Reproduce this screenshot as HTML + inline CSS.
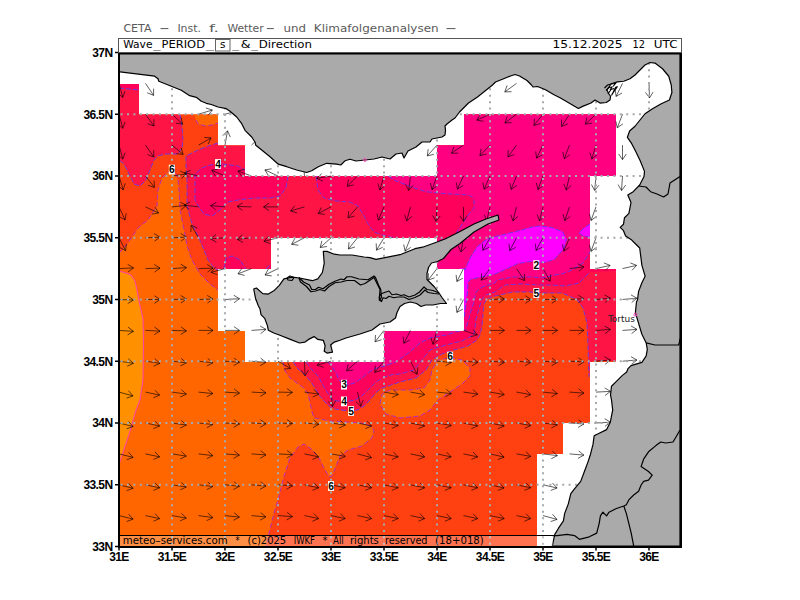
<!DOCTYPE html><html><head><meta charset="utf-8"><style>html,body{margin:0;padding:0;background:#fff;width:800px;height:600px;overflow:hidden}svg{display:block}</style></head><body>
<svg width="800" height="600" viewBox="0 0 800 600">
<defs>
<clipPath id="mask"><rect x="119" y="84" width="20" height="30.5"/><rect x="119" y="114.5" width="99" height="31.0"/><rect x="464" y="114.5" width="152" height="31.0"/><rect x="119" y="145.5" width="126" height="30.5"/><rect x="437" y="145.5" width="179" height="30.5"/><rect x="119" y="176" width="471" height="62"/><rect x="119" y="238" width="152" height="31"/><rect x="437" y="238" width="153" height="31"/><rect x="119" y="269" width="99" height="62"/><rect x="464" y="269" width="152" height="62"/><rect x="119" y="331" width="126" height="31"/><rect x="384" y="331" width="232" height="31"/><rect x="119" y="362" width="471" height="61"/><rect x="119" y="423" width="444" height="31"/><rect x="119" y="454" width="418" height="93"/></clipPath>
<clipPath id="map"><rect x="120" y="54" width="560" height="492"/></clipPath>
</defs>
<rect width="800" height="600" fill="#fff"/>
<g clip-path="url(#map)"><g clip-path="url(#mask)">
<rect x="119" y="52" width="562" height="495" fill="#FF6600"/>
<polygon points="100,271 119,271 126,273 131,275 135,281 137,290 139,301 141,310 143,319 143.5,340 143,380 140,400 136,410 129.5,433 122.6,453.7 119,464 100,464" fill="#FF9000"/>
<polygon points="119,52 681,52 681,547 266,547 270,529 274,513 278,500 284,476 290,458 298,447 304,444 310,448 318,456 324,468 329,477 332,476 336,466 340,456 348,450 362,446 372,438 374,430 370,426 362,423 346,422 330,421 320,419 314,418 312,412 310,402 308,394 304,388 297,383 290,378 285,371 283,362 248,355 248,330 220,328 220,295 218,290 210,284 200,274 192,260 187,246 184,230 180,210 179,190 178,180 176,174 168,172 162,178 158,190 157,206 148,220 138,228 130,240 124,248 119,253 119,52" fill="#FF4010"/>
<polygon points="194,114.5 196,120 198,124 206,126 212,125 218,123 218,114.5" fill="#FF6600"/>
<polygon points="380,404 382,394 390,390 410,390 424,388 430,380 432,370 438,360 450,358 462,360 470,368 470,376 462,384 450,392 438,400 430,410 420,416 400,418 386,414" fill="#FF6600"/>
<polygon points="119,52 181,52 180,114.5 182,126 183,140 182,148 178,154 166,154 158,156 154,160 150,170 146,180 140,186 134,184 128,172 124,164 119,160" fill="#FF1446"/>
<polygon points="218,143 225,140 225,52 681,52 681,361 592,361 589,377 588,345 587,323 583,308 577,299.5 562,293 555,293 543,293 530,292 513,292 495,296 487,299 484,304 483,315 482,326 480,335 477,340 468,346 454,350 442,354 432,360 426,370 416,378 400,382 391,385 382,388 376,392.5 370,400 364,406 358,409.75 351,411 341,410 335,409 329,406 324,401 319,395 315,388 311,382 305,375 298,369 293,362 292,340 225,300 222,272 218,270 214,268 208,260 204,250 198,236 192,224 187,206 187,180 186,166 186,156 198,150 208,146 218,143" fill="#FF1446"/>
<polygon points="119,52 140,52 139,90 119,88" fill="#FF005A"/>
<polygon points="195,200 195,174 202,168 210,165 222,164 238,166 245,170 260,172 290,172 288,176 286,188 280,196 270,198 254,198 238,200 228,202 220,210 212,216 204,214 197,204 195,200" fill="#FF005A"/>
<polygon points="316,52 681,52 681,268 590,272 579,283 566,286 551,285 538,285 522,284 505,285 495,292 486,295 482,299 479,308 476,319 475,328 473.7,335 462,341 446,345 430,350 422,360 414,370 400,374 392.5,374.5 383.5,377.5 376,382 370,388 362.5,395.5 355,400 347.5,401.5 341,401.5 332,400 329,395 324,387 318,376 312,370 306,362 306,350 394,245 394,238 382,235 374,232 368,224 364,216 358,206 350,202 336,201 324,198 318,190 316,176" fill="#FF005A"/>
<polygon points="224,269 226,258 232,256 240,260 246,269 246,275 224,275" fill="#FF005A"/>
<polygon points="266,269 271,264 275,264 275,275 266,275" fill="#FF005A"/>
<polygon points="388,52 681,52 681,250 590,250 590,252 583,263 572,270 562,274 555,275 543,278 532,277 513,277 497,280 495,283 482,287 476,292 474,302 471,311 468,322 465.7,330 456,332 446,335 430,338 420,343 410,352 396,362 385,366 377.5,367.75 370,371.5 362.5,377.5 355,382.75 347.5,385 343.5,385 339,380 336,373 332,367 328,362 327,350 420,300 437,250 437,238 455,238 457.5,230.7 460.6,226.6 466.8,216.4 474,208.2 474,200 471.5,196.5 466.8,194.9 446.3,193.8 425.7,191.7 410,186.5 395,180.5 388,176" fill="#FF0080"/>
<polygon points="464,268 465,270 470,258 477,247 483,242 489,238 502,235 518,231 534,226.6 540,226 552,227.6 562.5,231.7 566.6,239 563.6,249 554.3,259.4 544,262.5 530,261.5 518,263.5 504,270 495,274 487,276 471,279 468,282 467.7,290 466.3,302 465,311 464,319 460,319 460,268" fill="#FF00FF"/>
<polygon points="590,224 583.4,228.5 579,233 583.4,236 590,237.2 600,237 600,224" fill="#FF00FF"/>
<polyline points="180,114.5 182,126 183,140 182,148 178,154 166,154 158,156 154,160 150,170 146,180 140,186 134,184 128,172 124,164 119,160" fill="none" stroke="#5a3cf0" stroke-width="1" stroke-dasharray="5 2" opacity="0.85"/>
<polyline points="218,143 208,146 198,150 186,156 186,166 187,180 187,206 192,224 198,236 204,250 208,260 214,268 218,270" fill="none" stroke="#5a3cf0" stroke-width="1" stroke-dasharray="5 2" opacity="0.85"/>
<polyline points="293,362 298,369 305,375 311,382 315,388 319,395 324,401 329,406 335,409 341,410 351,411 358,409.75 364,406 370,400 376,392.5 382,388 391,385 400,382 416,378 426,370 432,360 442,354 454,350 468,346 477,340 480,335 482,326 483,315 484,304 487,299 495,296 513,292 530,292 543,293 555,293 562,293 577,299.5 583,308 587,323 588,345 589,377" fill="none" stroke="#5a3cf0" stroke-width="1" stroke-dasharray="5 2" opacity="0.85"/>
<polyline points="119,88 139,90" fill="none" stroke="#5a3cf0" stroke-width="1" stroke-dasharray="5 2" opacity="0.85"/>
<polyline points="195,200 195,174 202,168 210,165 222,164 238,166 245,170" fill="none" stroke="#5a3cf0" stroke-width="1" stroke-dasharray="5 2" opacity="0.85"/>
<polyline points="288,176 286,188 280,196 270,198 254,198 238,200 228,202 220,210 212,216 204,214 197,204 195,200" fill="none" stroke="#5a3cf0" stroke-width="1" stroke-dasharray="5 2" opacity="0.85"/>
<polyline points="224,269 226,258 232,256 240,260 246,269" fill="none" stroke="#5a3cf0" stroke-width="1" stroke-dasharray="5 2" opacity="0.85"/>
<polyline points="266,269 271,264" fill="none" stroke="#5a3cf0" stroke-width="1" stroke-dasharray="5 2" opacity="0.85"/>
<polyline points="316,176 318,190 324,198 336,201 350,202 358,206 364,216 368,224 374,232 382,235 394,238" fill="none" stroke="#5a3cf0" stroke-width="1" stroke-dasharray="5 2" opacity="0.85"/>
<polyline points="306,362 312,370 318,376 324,387 329,395 332,400 341,401.5 347.5,401.5 355,400 362.5,395.5 370,388 376,382 383.5,377.5 392.5,374.5 400,374 414,370 422,360 430,350 446,345 462,341 473.7,335 475,328 476,319 479,308 482,299 486,295 495,292 505,285 522,284 538,285 551,285 566,286 579,283 590,272" fill="none" stroke="#5a3cf0" stroke-width="1" stroke-dasharray="5 2" opacity="0.85"/>
<polyline points="388,176 395,180.5 410,186.5 425.7,191.7 446.3,193.8 466.8,194.9 471.5,196.5 474,200 474,208.2 466.8,216.4 460.6,226.6 457.5,230.7 455,238" fill="none" stroke="#5a3cf0" stroke-width="1" stroke-dasharray="5 2" opacity="0.85"/>
<polyline points="328,362 332,367 336,373 339,380 343.5,385 347.5,385 355,382.75 362.5,377.5 370,371.5 377.5,367.75 385,366 396,362 410,352 420,343 430,338 446,335 456,332 465.7,330 468,322 471,311 474,302 476,292 482,287 495,283 497,280 513,277 532,277 543,278 555,275 562,274 572,270 583,263 590,252" fill="none" stroke="#5a3cf0" stroke-width="1" stroke-dasharray="5 2" opacity="0.85"/>
<polyline points="464,268 465,270 470,258 477,247 483,242 489,238 502,235 518,231 534,226.6 540,226 552,227.6 562.5,231.7 566.6,239 563.6,249 554.3,259.4 544,262.5 530,261.5 518,263.5 504,270 495,274 487,276 471,279 468,282 467.7,290 466.3,302 465,311 464,319" fill="none" stroke="#5a3cf0" stroke-width="1" stroke-dasharray="5 2" opacity="0.85"/>
<polyline points="590,224 583.4,228.5 579,233 583.4,236 590,237.2" fill="none" stroke="#5a3cf0" stroke-width="1" stroke-dasharray="5 2" opacity="0.85"/>
<polyline points="119,253 124,248 130,240 138,228 148,220 157,206 158,190 162,178 168,172 176,174 178,180 179,190 180,210 184,230 187,246 192,260 200,274 210,284 218,290" fill="none" stroke="#a028e0" stroke-width="1" stroke-dasharray="5 2.5" opacity="0.8"/>
<polyline points="283,362 285,371 290,378 297,383 304,388 308,394 310,402 312,412 314,418 320,419 330,421 346,422 362,423 370,426 374,430 372,438 362,446 348,450 340,456 336,466 332,476 329,477 324,468 318,456 310,448 304,444 298,447 290,458 284,476 278,500 274,513 270,529 266,547" fill="none" stroke="#a028e0" stroke-width="1" stroke-dasharray="5 2.5" opacity="0.8"/>
<polyline points="196,120 198,124 206,126 212,125 218,123" fill="none" stroke="#a028e0" stroke-width="1" stroke-dasharray="5 2.5" opacity="0.8"/>
<polyline points="380,404 382,394 390,390 410,390 424,388 430,380 432,370 438,360 450,358 462,360 470,368 470,376 462,384 450,392 438,400 430,410 420,416 400,418 386,414 380,404" fill="none" stroke="#a028e0" stroke-width="1" stroke-dasharray="5 2.5" opacity="0.8"/>
<polyline points="119,271 126,273 131,275 135,281 137,290 139,301 141,310 143,319 143.5,340 143,380 140,400 136,410 129.5,433 122.6,453.7 119,464" fill="none" stroke="#ff3cc0" stroke-width="1" opacity="0.9"/>
</g>
<path d="M119.0 83.4L122.8 97.4M117.6 92.9L122.8 97.4L125.0 91.0M145.5 83.4L153.6 95.4M147.3 92.8L153.6 95.4L153.6 88.6M516.5 83.4L504.8 91.9M507.1 85.5L504.8 91.9L511.6 91.7M622.5 83.4L616.1 96.4M615.2 89.7L616.1 96.4L622.0 93.0M649.0 83.4L649.5 97.9M645.5 92.4L649.5 97.9L653.1 92.1M119.0 114.2L122.8 128.3M117.6 123.8L122.8 128.3L125.0 121.8M145.5 114.2L154.0 126.0M147.6 123.7L154.0 126.0L153.8 119.2M172.0 114.2L182.6 124.1M175.9 123.1L182.6 124.1L181.1 117.5M198.5 114.2L212.4 110.0M208.1 115.3L212.4 110.0L205.9 108.0M225.0 114.2L239.0 110.5M234.5 115.6L239.0 110.5L232.6 108.3M490.0 114.2L476.8 120.1M480.4 114.4L476.8 120.1L483.5 121.3M516.5 114.2L504.9 123.0M507.1 116.5L504.9 123.0L511.7 122.6M543.0 114.2L533.9 125.5M534.5 118.7L533.9 125.5L540.4 123.5M569.5 114.2L561.6 126.4M561.5 119.6L561.6 126.4L567.9 123.8M596.0 114.2L585.4 124.1M586.9 117.5L585.4 124.1L592.1 123.1M622.5 114.2L617.3 127.8M615.8 121.2L617.3 127.8L622.9 123.9M119.0 145.1L122.8 159.1M117.6 154.7L122.8 159.1L125.0 152.7M145.5 145.1L153.8 157.0M147.5 154.6L153.8 157.0L153.7 150.2M172.0 145.1L183.1 154.4M176.3 153.7L183.1 154.4L181.2 147.9M198.5 145.1L211.1 137.9M208.1 144.0L211.1 137.9L204.3 137.4M225.0 145.1L227.5 130.8M230.3 137.1L227.5 130.8L222.8 135.7M251.5 145.1L261.8 134.9M260.5 141.5L261.8 134.9L255.1 136.2M437.0 145.1L427.3 155.9M428.2 149.2L427.3 155.9L433.9 154.3M463.5 145.1L451.5 153.2M454.0 146.9L451.5 153.2L458.3 153.2M490.0 145.1L479.9 155.6M481.1 148.9L479.9 155.6L486.6 154.1M516.5 145.1L508.0 156.9M508.2 150.1L508.0 156.9L514.4 154.5M543.0 145.1L536.6 158.2M535.7 151.4L536.6 158.2L542.5 154.8M569.5 145.1L564.3 158.7M562.8 152.0L564.3 158.7L569.9 154.8M596.0 145.1L591.8 159.0M589.8 152.5L591.8 159.0L597.0 154.7M622.5 145.1L622.5 159.6M618.7 154.0L622.5 159.6L626.3 154.0M119.0 176.0L123.2 189.9M118.0 185.6L123.2 189.9L125.2 183.4M145.5 176.0L154.4 187.4M148.0 185.3L154.4 187.4L154.0 180.6M172.0 176.0L186.4 174.0M181.3 178.5L186.4 174.0L180.2 171.0M198.5 176.0L184.4 172.7M190.7 170.3L184.4 172.7L189.0 177.7M225.0 176.0L211.7 170.3M218.3 169.0L211.7 170.3L215.4 176.0M251.5 176.0L237.9 171.0M244.5 169.4L237.9 171.0L241.9 176.5M278.0 176.0L264.9 169.9M271.6 168.8L264.9 169.9L268.4 175.7M304.5 176.0L303.2 161.6M307.5 166.8L303.2 161.6L299.9 167.5M331.0 176.0L316.7 178.3M321.7 173.6L316.7 178.3L322.8 181.1M357.5 176.0L347.2 186.3M348.5 179.6L347.2 186.3L353.9 185.0M384.0 176.0L379.8 189.9M377.8 183.4L379.8 189.9L385.0 185.6M410.5 176.0L408.7 190.4M405.6 184.3L408.7 190.4L413.2 185.3M437.0 176.0L432.0 189.6M430.4 183.0L432.0 189.6L437.5 185.6M463.5 176.0L457.4 189.1M456.3 182.4L457.4 189.1L463.2 185.6M490.0 176.0L484.1 189.2M482.9 182.5L484.1 189.2L489.9 185.6M516.5 176.0L511.1 189.4M509.7 182.8L511.1 189.4L516.7 185.6M543.0 176.0L538.0 189.6M536.4 183.0L538.0 189.6L543.5 185.6M569.5 176.0L566.2 190.1M563.8 183.8L566.2 190.1L571.2 185.5M596.0 176.0L594.7 190.4M591.4 184.5L594.7 190.4L599.0 185.2M622.5 176.0L621.5 190.5M618.1 184.6L621.5 190.5L625.7 185.1M119.0 206.9L125.1 220.0M119.3 216.5L125.1 220.0L126.2 213.3M145.5 206.9L158.6 213.0M151.9 214.1L158.6 213.0L155.1 207.2M172.0 206.9L186.4 205.4M181.2 209.7L186.4 205.4L180.4 202.2M198.5 206.9L184.1 205.1M190.2 202.0L184.1 205.1L189.2 209.6M225.0 206.9L210.6 205.6M216.5 202.3L210.6 205.6L215.8 209.9M251.5 206.9L237.0 206.4M242.8 202.8L237.0 206.4L242.5 210.4M278.0 206.9L263.5 206.9M269.1 203.1L263.5 206.9L269.1 210.7M304.5 206.9L290.6 210.9M294.9 205.7L290.6 210.9L297.0 213.0M331.0 206.9L318.1 213.5M321.4 207.5L318.1 213.5L324.8 214.3M357.5 206.9L348.0 217.8M348.8 211.1L348.0 217.8L354.6 216.1M384.0 206.9L378.3 220.2M377.0 213.5L378.3 220.2L384.0 216.5M410.5 206.9L406.7 220.9M404.5 214.5L406.7 220.9L411.9 216.4M437.0 206.9L436.0 221.3M432.6 215.5L436.0 221.3L440.2 216.0M463.5 206.9L463.5 221.4M459.7 215.7L463.5 221.4L467.3 215.7M490.0 206.9L486.7 221.0M484.3 214.7L486.7 221.0L491.7 216.4M516.5 206.9L513.0 220.9M510.7 214.6L513.0 220.9L518.0 216.4M543.0 206.9L539.5 220.9M537.2 214.6L539.5 220.9L544.5 216.4M569.5 206.9L564.8 220.6M563.0 214.0L564.8 220.6L570.2 216.5M596.0 206.9L591.0 220.5M589.4 213.9L591.0 220.5L596.5 216.5M119.0 237.8L125.6 250.7M119.6 247.4L125.6 250.7L126.4 243.9M145.5 237.8L160.0 237.2M154.5 241.2L160.0 237.2L154.2 233.6M172.0 237.8L186.5 237.0M181.0 241.1L186.5 237.0L180.7 233.5M198.5 237.8L191.2 225.2M197.4 228.2L191.2 225.2L190.8 232.0M225.0 237.8L210.5 238.8M215.9 234.6L210.5 238.8L216.4 242.2M251.5 237.8L237.1 239.3M242.3 234.9L237.1 239.3L243.1 242.5M278.0 237.8L263.9 241.3M268.5 236.2L263.9 241.3L270.3 243.6M304.5 237.8L291.6 244.3M294.9 238.4L291.6 244.3L298.3 245.2M331.0 237.8L320.2 247.5M321.9 240.9L320.2 247.5L327.0 246.5M357.5 237.8L348.4 249.0M349.0 242.2L348.4 249.0L354.9 247.0M384.0 237.8L376.5 250.2M376.2 243.4L376.5 250.2L382.7 247.3M410.5 237.8L405.1 251.2M403.7 244.5L405.1 251.2L410.7 247.4M463.5 237.8L461.0 252.0M458.2 245.8L461.0 252.0L465.7 247.1M490.0 237.8L482.8 250.3M482.3 243.5L482.8 250.3L488.9 247.3M516.5 237.8L509.7 250.6M509.0 243.8L509.7 250.6L515.7 247.4M543.0 237.8L536.0 250.4M535.4 243.7L536.0 250.4L542.0 247.3M569.5 237.8L563.8 251.1M562.5 244.4L563.8 251.1L569.5 247.4M596.0 237.8L591.0 251.4M589.4 244.8L591.0 251.4L596.5 247.4M119.0 268.6L133.5 267.9M128.0 272.0L133.5 267.9L127.7 264.4M145.5 268.6L160.0 268.1M154.5 272.1L160.0 268.1L154.2 264.5M172.0 268.6L186.5 267.6M181.1 271.8L186.5 267.6L180.6 264.2M198.5 268.6L213.0 268.1M207.5 272.1L213.0 268.1L207.2 264.5M225.0 268.6L211.0 272.4M215.5 267.2L211.0 272.4L217.4 274.6M251.5 268.6L238.0 273.8M241.9 268.3L238.0 273.8L244.6 275.4M278.0 268.6L265.0 275.0M268.4 269.1L265.0 275.0L271.7 275.9M437.0 268.6L428.1 280.1M428.5 273.3L428.1 280.1L434.5 277.9M463.5 268.6L456.9 281.5M456.1 274.8L456.9 281.5L462.9 278.2M490.0 268.6L481.3 280.2M481.6 273.4L481.3 280.2L487.7 278.0M516.5 268.6L524.6 280.6M518.3 278.1L524.6 280.6L524.6 273.8M543.0 268.6L550.2 281.2M544.1 278.2L550.2 281.2L550.7 274.4M569.5 268.6L583.9 266.9M578.8 271.3L583.9 266.9L577.8 263.8M596.0 268.6L610.1 265.4M605.5 270.3L610.1 265.4L603.8 262.9M622.5 268.6L636.6 265.4M632.0 270.3L636.6 265.4L630.3 262.9M119.0 299.5L133.5 300.0M127.7 303.6L133.5 300.0L128.0 296.0M145.5 299.5L160.0 299.5M154.4 303.3L160.0 299.5L154.4 295.7M172.0 299.5L186.5 299.0M181.0 303.0L186.5 299.0L180.7 295.4M198.5 299.5L213.0 299.0M207.5 303.0L213.0 299.0L207.2 295.4M225.0 299.5L239.5 298.7M234.0 302.8L239.5 298.7L233.7 295.2M463.5 299.5L456.9 312.4M456.1 305.7L456.9 312.4L462.9 309.1M490.0 299.5L504.5 299.0M499.0 303.0L504.5 299.0L498.7 295.4M516.5 299.5L531.0 299.5M525.4 303.3L531.0 299.5L525.4 295.7M543.0 299.5L557.5 299.5M551.9 303.3L557.5 299.5L551.9 295.7M569.5 299.5L584.0 298.7M578.5 302.8L584.0 298.7L578.2 295.2M596.0 299.5L610.4 298.2M605.2 302.5L610.4 298.2L604.5 294.9M622.5 299.5L636.9 298.2M631.7 302.5L636.9 298.2L631.0 294.9M119.0 330.4L133.5 331.4M127.6 334.8L133.5 331.4L128.1 327.2M145.5 330.4L160.0 331.1M154.2 334.6L160.0 331.1L154.5 327.0M172.0 330.4L186.5 330.9M180.7 334.5L186.5 330.9L181.0 326.9M198.5 330.4L213.0 330.4M207.4 334.2L213.0 330.4L207.4 326.6M225.0 330.4L239.5 330.4M233.9 334.2L239.5 330.4L233.9 326.6M251.5 330.4L266.0 329.4M260.6 333.6L266.0 329.4L260.1 326.0M384.0 330.4L375.1 341.8M375.5 335.0L375.1 341.8L381.5 339.7M410.5 330.4L403.9 343.3M403.1 336.5L403.9 343.3L409.9 340.0M437.0 330.4L433.0 344.3M430.9 337.8L433.0 344.3L438.2 339.9M463.5 330.4L477.3 334.9M470.8 336.7L477.3 334.9L473.1 329.5M490.0 330.4L504.5 330.4M498.9 334.2L504.5 330.4L498.9 326.6M516.5 330.4L531.0 330.4M525.4 334.2L531.0 330.4L525.4 326.6M543.0 330.4L557.5 330.4M551.9 334.2L557.5 330.4L551.9 326.6M569.5 330.4L584.0 330.4M578.4 334.2L584.0 330.4L578.4 326.6M596.0 330.4L610.5 329.4M605.1 333.6L610.5 329.4L604.6 326.0M622.5 330.4L637.0 329.4M631.6 333.6L637.0 329.4L631.1 326.0M119.0 361.2L133.4 363.3M127.2 366.2L133.4 363.3L128.3 358.7M145.5 361.2L159.9 363.3M153.7 366.2L159.9 363.3L154.8 358.7M172.0 361.2L186.4 362.8M180.4 366.0L186.4 362.8L181.2 358.4M198.5 361.2L212.9 362.8M206.9 366.0L212.9 362.8L207.7 358.4M225.0 361.2L239.5 362.3M233.6 365.7L239.5 362.3L234.1 358.1M251.5 361.2L266.0 362.3M260.1 365.7L266.0 362.3L260.6 358.1M278.0 361.2L290.6 368.5M283.8 369.0L290.6 368.5L287.6 362.4M304.5 361.2L305.0 375.7M301.0 370.2L305.0 375.7L308.6 370.0M331.0 361.2L317.1 365.2M321.4 360.0L317.1 365.2L323.5 367.3M357.5 361.2L346.6 370.8M348.3 364.2L346.6 370.8L353.3 369.9M384.0 361.2L374.7 372.4M375.4 365.6L374.7 372.4L381.2 370.5M410.5 361.2L417.1 374.2M411.1 370.9L417.1 374.2L417.9 367.4M437.0 361.2L451.4 362.5M445.5 365.8L451.4 362.5L446.2 358.2M463.5 361.2L478.0 362.3M472.1 365.7L478.0 362.3L472.6 358.1M490.0 361.2L504.5 362.3M498.6 365.7L504.5 362.3L499.1 358.1M516.5 361.2L531.0 362.3M525.1 365.7L531.0 362.3L525.6 358.1M543.0 361.2L557.5 362.3M551.6 365.7L557.5 362.3L552.1 358.1M569.5 361.2L584.0 361.8M578.2 365.4L584.0 361.8L578.5 357.8M596.0 361.2L610.4 360.0M605.2 364.3L610.4 360.0L604.5 356.7M622.5 361.2L636.9 360.0M631.7 364.3L636.9 360.0L631.0 356.7M119.0 392.1L133.0 395.9M126.6 398.1L133.0 395.9L128.5 390.7M145.5 392.1L159.7 395.1M153.4 397.7L159.7 395.1L155.0 390.2M172.0 392.1L186.4 394.1M180.2 397.1L186.4 394.1L181.3 389.6M198.5 392.1L212.9 393.6M206.9 396.8L212.9 393.6L207.7 389.3M225.0 392.1L239.5 393.1M233.6 396.5L239.5 393.1L234.1 388.9M251.5 392.1L266.0 392.9M260.2 396.4L266.0 392.9L260.5 388.8M278.0 392.1L292.5 392.4M286.8 396.1L292.5 392.4L286.9 388.5M304.5 392.1L318.9 394.1M312.7 397.1L318.9 394.1L313.8 389.6M331.0 392.1L332.5 406.5M328.1 401.3L332.5 406.5L335.7 400.5M357.5 392.1L360.8 406.3M355.8 401.6L360.8 406.3L363.2 399.9M384.0 392.1L398.3 394.6M392.1 397.4L398.3 394.6L393.4 389.9M410.5 392.1L424.8 394.6M418.6 397.4L424.8 394.6L419.9 389.9M437.0 392.1L451.4 393.6M445.4 396.8L451.4 393.6L446.2 389.3M463.5 392.1L477.9 394.1M471.7 397.1L477.9 394.1L472.8 389.6M490.0 392.1L504.3 394.6M498.1 397.4L504.3 394.6L499.4 389.9M516.5 392.1L530.8 394.6M524.6 397.4L530.8 394.6L525.9 389.9M543.0 392.1L557.4 393.6M551.4 396.8L557.4 393.6L552.2 389.3M569.5 392.1L584.0 393.1M578.1 396.5L584.0 393.1L578.6 388.9M596.0 392.1L610.5 391.4M605.0 395.5L610.5 391.4L604.7 387.9M119.0 423.0L133.1 426.5M126.7 428.8L133.1 426.5L128.5 421.5M145.5 423.0L159.7 426.0M153.4 428.6L159.7 426.0L155.0 421.1M172.0 423.0L186.4 425.0M180.2 428.0L186.4 425.0L181.3 420.5M198.5 423.0L212.9 424.5M206.9 427.7L212.9 424.5L207.7 420.1M225.0 423.0L239.5 424.0M233.6 427.4L239.5 424.0L234.1 419.8M251.5 423.0L266.0 423.8M260.2 427.3L266.0 423.8L260.5 419.7M278.0 423.0L292.5 423.5M286.7 427.1L292.5 423.5L287.0 419.5M304.5 423.0L318.9 424.3M313.0 427.6L318.9 424.3L313.7 420.0M331.0 423.0L345.4 425.0M339.2 428.0L345.4 425.0L340.3 420.5M357.5 423.0L371.7 426.0M365.4 428.6L371.7 426.0L367.0 421.1M384.0 423.0L398.3 425.5M392.1 428.3L398.3 425.5L393.4 420.8M410.5 423.0L424.7 426.0M418.4 428.6L424.7 426.0L420.0 421.1M437.0 423.0L451.3 425.5M445.1 428.3L451.3 425.5L446.4 420.8M463.5 423.0L477.7 426.0M471.4 428.6L477.7 426.0L473.0 421.1M490.0 423.0L504.2 426.0M497.9 428.6L504.2 426.0L499.5 421.1M516.5 423.0L530.8 425.5M524.6 428.3L530.8 425.5L525.9 420.8M543.0 423.0L557.4 424.8M551.3 427.9L557.4 424.8L552.3 420.3M569.5 423.0L584.0 424.0M578.1 427.4L584.0 424.0L578.6 419.8M596.0 423.0L610.5 422.2M605.0 426.3L610.5 422.2L604.7 418.7M119.0 453.9L133.1 457.4M126.7 459.7L133.1 457.4L128.5 452.3M145.5 453.9L159.7 456.9M153.4 459.4L159.7 456.9L155.0 452.0M172.0 453.9L186.3 456.1M180.2 459.0L186.3 456.1L181.3 451.5M198.5 453.9L212.9 455.6M206.8 458.7L212.9 455.6L207.8 451.2M225.0 453.9L239.4 455.1M233.5 458.4L239.4 455.1L234.2 450.9M251.5 453.9L266.0 454.9M260.1 458.3L266.0 454.9L260.6 450.7M278.0 453.9L292.5 454.6M286.7 458.1L292.5 454.6L287.0 450.5M304.5 453.9L318.7 456.9M312.4 459.4L318.7 456.9L314.0 452.0M331.0 453.9L345.3 456.4M339.1 459.2L345.3 456.4L340.4 451.7M357.5 453.9L371.5 457.6M365.1 459.8L371.5 457.6L367.0 452.5M384.0 453.9L398.2 456.9M391.9 459.4L398.2 456.9L393.5 452.0M410.5 453.9L424.7 456.9M418.4 459.4L424.7 456.9L420.0 452.0M437.0 453.9L451.2 456.9M444.9 459.4L451.2 456.9L446.5 452.0M463.5 453.9L477.7 456.9M471.4 459.4L477.7 456.9L473.0 452.0M490.0 453.9L504.1 457.1M497.8 459.6L504.1 457.1L499.5 452.2M516.5 453.9L530.8 456.4M524.6 459.2L530.8 456.4L525.9 451.7M543.0 453.9L557.4 455.6M551.3 458.7L557.4 455.6L552.3 451.2M569.5 453.9L583.9 455.1M578.0 458.4L583.9 455.1L578.7 450.9M119.0 484.8L133.1 488.3M126.7 490.6L133.1 488.3L128.5 483.2M145.5 484.8L159.7 487.8M153.4 490.3L159.7 487.8L155.0 482.9M172.0 484.8L186.3 487.0M180.2 489.9L186.3 487.0L181.3 482.4M198.5 484.8L212.9 486.5M206.8 489.6L212.9 486.5L207.8 482.1M225.0 484.8L239.4 486.3M233.4 489.5L239.4 486.3L234.2 481.9M251.5 484.8L265.9 486.0M260.0 489.3L265.9 486.0L260.7 481.7M278.0 484.8L292.5 485.8M286.6 489.2L292.5 485.8L287.1 481.6M304.5 484.8L318.7 487.8M312.4 490.3L318.7 487.8L314.0 482.9M331.0 484.8L345.2 487.8M338.9 490.3L345.2 487.8L340.5 482.9M357.5 484.8L371.7 487.8M365.4 490.3L371.7 487.8L367.0 482.9M384.0 484.8L398.2 487.8M391.9 490.3L398.2 487.8L393.5 482.9M410.5 484.8L424.7 487.8M418.4 490.3L424.7 487.8L420.0 482.9M437.0 484.8L451.2 487.8M444.9 490.3L451.2 487.8L446.5 482.9M463.5 484.8L477.7 487.8M471.4 490.3L477.7 487.8L473.0 482.9M490.0 484.8L504.1 488.0M497.8 490.4L504.1 488.0L499.5 483.0M516.5 484.8L530.7 487.8M524.4 490.3L530.7 487.8L526.0 482.9M543.0 484.8L557.1 488.0M550.8 490.4L557.1 488.0L552.5 483.0M119.0 515.6L133.1 519.1M126.7 521.5L133.1 519.1L128.5 514.1M145.5 515.6L159.7 518.6M153.4 521.2L159.7 518.6L155.0 513.7M172.0 515.6L186.3 518.1M180.1 520.9L186.3 518.1L181.4 513.4M198.5 515.6L212.9 517.6M206.7 520.6L212.9 517.6L207.8 513.1M225.0 515.6L239.4 517.1M233.4 520.3L239.4 517.1L234.2 512.8M251.5 515.6L265.9 516.9M260.0 520.2L265.9 516.9L260.7 512.6M278.0 515.6L292.5 516.6M286.6 520.0L292.5 516.6L287.1 512.4M304.5 515.6L318.7 518.6M312.4 521.2L318.7 518.6L314.0 513.7M331.0 515.6L345.2 518.6M338.9 521.2L345.2 518.6L340.5 513.7M357.5 515.6L371.7 518.6M365.4 521.2L371.7 518.6L367.0 513.7M384.0 515.6L398.2 518.6M391.9 521.2L398.2 518.6L393.5 513.7M410.5 515.6L424.7 518.6M418.4 521.2L424.7 518.6L420.0 513.7M437.0 515.6L451.2 518.6M444.9 521.2L451.2 518.6L446.5 513.7M463.5 515.6L477.7 518.6M471.4 521.2L477.7 518.6L473.0 513.7M490.0 515.6L504.2 518.6M497.9 521.2L504.2 518.6L499.5 513.7M516.5 515.6L530.7 518.6M524.4 521.2L530.7 518.6L526.0 513.7M543.0 515.6L557.0 519.4M550.6 521.6L557.0 519.4L552.5 514.2" fill="none" stroke="#000" stroke-width="1" opacity="0.62"/>
<path d="M172 56.35V546M225 56.35V546M278 56.35V546M331 56.35V546M384 56.35V546M437 56.35V546M490 56.35V546M543 56.35V546M596 56.35V546M649 56.35V546M120.6 114.2H680M120.6 176.0H680M120.6 237.8H680M120.6 299.5H680M120.6 361.2H680M120.6 423.0H680M120.6 484.8H680" stroke="#a6aaae" stroke-width="2" stroke-dasharray="2 4.4" fill="none"/>
<polygon points="119,54 119,71.7 154.7,76.2 158,78.7 158.8,81.2 171.3,86.2 181.3,90.3 189.7,95.7 196.3,97.3 201.3,101.2 206.3,103.3 211.3,104.5 218,107 226.3,108.7 230,111.2 236.7,117 241.7,123.7 245,130.3 251.7,137 255,142 255.8,145.3 261.7,150 270,156.7 278.3,164.2 286.7,166.7 296.7,170 306.7,172.5 311.7,170.8 318.3,166.7 326.7,163.3 336.7,164.2 340.8,165 345,160.8 350,159.2 356,161 365,160 374,159 382,157 390,159 396,154 402,153 404,158 408,151 416,147 422,142 430,142 432,139 437,138 442,137 445,135 445.5,130 445,126 447,124 452,120 455,118 459.5,112 468.5,103 477.5,97 485,91 492.5,85 495.5,82 503,79 510.5,76 515,74.5 519.5,76 527,80.5 531.5,85 533,87 537.5,86.5 545,89.5 554,94.7 560,97.7 565.6,101 578.4,108.5 582.6,106.4 591,103 595,100 600,103.1 606.25,102.5 610,100 610.6,96.25 608.75,93.75 606.9,90 611.25,83.75 617.5,81.9 623.75,81.25 630,78.75 635,75 640,70 645,65 650,62.5 655,63.1 662.5,68.75 668.75,76.25 671.25,85 671.9,92.5 669.4,100 661.25,103.75 652.5,108.75 645,113.75 640,120 635,126.25 629.6,131 627.4,137.3 631.7,143.7 636,152 640.2,160.7 644.5,171.4 644,176.5 639.7,185 633.2,191.7 627.8,195 631,202.5 628.9,213.4 624.5,217.7 623.5,224.2 620.2,227.4 623.5,230.7 625.6,236 631,239.4 635.4,243.7 639.7,248 640.8,256.7 641.9,265.4 645.1,276.2 641.9,282.7 638.6,291.4 637.5,300 636.5,301.7 635.4,312.5 638.6,323.4 641.9,334.2 646.2,342.9 647.3,349.4 646.2,355.9 641.9,362.4 631,365.6 627.8,368.9 626.7,372 622.4,375.4 615.9,381.9 611.5,386.2 610.5,394.9 611.5,400 612.7,409.9 610.3,422.2 606.6,429.6 599.2,433.3 594.2,435.7 593,444.4 590.5,454.2 588.1,461.6 584.4,471.5 580.7,481.4 574.5,488.8 570.8,493.7 568.4,503.6 564.7,513.4 563.4,520.8 558.5,528.2 554.8,534.4 552.3,546 680,546 680,54" fill="#AAAAAA" stroke="#000" stroke-width="1.2" stroke-linejoin="round"/>
<polygon points="253.7,289 256.4,288 262.8,293.6 268.3,294.1 273.8,290.8 279.3,285.3 283.9,278.9 292.2,277.1 299.5,278 312.3,280.7 317.8,278.9 322.4,272.5 324.2,263.3 323.3,251.4 327,251.4 334.3,254.2 340,255 352,255 364,257 370,257.7 376,259.3 385,257.7 400,254.7 407.5,251.7 415,248.7 422.5,247.2 433,243.5 445,239 454,234.5 460,231.5 474,224 486,219 498,215 499,220 488,224 474,232 460,243.5 451,249.5 443.5,258.5 437.5,261.5 431.5,263 428.5,267.5 427,273.5 427,279.5 430,282.5 434.5,287 439,293 442,297.5 446.5,303.5 440.5,303.5 433,305 425.5,305 421,306.5 416.5,303.5 410.5,302 404.5,303.5 400,306.5 397,312.5 395.5,318 390,322 380,324 372,330 360,334 346,338 340,340.3 334.3,342.1 330.6,344.9 332.5,352.2 327,353.1 324.2,351.3 325.1,345.8 323.3,340.3 317.8,339.4 314.1,336.6 308.6,339.4 305,342.1 299.5,343 290.3,339.4 281.2,335.7 273.8,333 268.3,330.2 267.4,325.6 264.7,318.3 261,314.6 260,309 258.2,305.5 255.5,298.2" fill="#AAAAAA" stroke="#000" stroke-width="1.2" stroke-linejoin="round"/>
<path d="M604.5,88 L607.5,85 L611,84 L615.5,83.5 L613,86.5 M606,90.5 L609,87.5 L612,87 L610,90 M608,94 L611,89.5 L614,88.5 M611.5,95.5 L615.5,87.5 L617.5,86.5 L613,93 Z" fill="none" stroke="#000" stroke-width="1.1"/>
<polyline points="638.6,186 646,187 650.6,191.7 657,194 663.6,197 668,194 670,183 676.6,178.7 680,176.5" fill="none" stroke="#000" stroke-width="1.2" stroke-linejoin="round"/>
<polyline points="646.2,342.9 655,345 668,345 678.7,345 679.8,340.7 680,338.5" fill="none" stroke="#000" stroke-width="1.2" stroke-linejoin="round"/>
<polyline points="680,430 676,437 673,442 665.7,443 660.8,442 655.9,445.6 648.5,451.8 643.6,459.2 641.1,466.6 648.5,471.5 652.2,475.2 648.5,480.1 643.6,481.4 641.1,485 638.6,491.2 633.7,495 628.8,499.9 626.3,504.8 623.8,506 616.4,508.5 609,512.2 606.6,515.9 602.9,512.2 600.4,515.9 599.2,523.3 596.7,533.1 589.3,536.8 579.4,539.3 574.5,535.6 567.1,534.4 557.3,535.6 552.3,535.6" fill="none" stroke="#000" stroke-width="1.2" stroke-linejoin="round"/>
<polyline points="623.8,506 626.3,513.4 628.8,523.3 631.2,533.1 633.7,546" fill="none" stroke="#000" stroke-width="1.2" stroke-linejoin="round"/>
<polyline points="299,277.5 303.5,282 309.5,285 311.75,289.5 315.5,289.5 318.5,287.25 323,288.75 329,284.25 335,281.25 341,279 344,279.75 347,276.75 351.5,276.75 359,279 368,279.75 374,276 375.5,277.5 378.5,285 380.75,289.5 381.5,297 380,300 379.25,297 380.75,294 384.5,292.5 389,291 392,294.75 396.5,294 401,295.5 404,294.75 409,297 415,295 419.5,292 424,287 427,289.5 433,290.5 439,293" fill="none" stroke="#000" stroke-width="1.2" stroke-linejoin="round"/>
<polyline points="299,278.25 300.5,282 306.5,286.5 311,291.75 315.5,291 320,289.5 324.5,291 329,286.5 335,282.75 341,282 347,280.5 354.5,280.5 360.5,285 365,283.5 369.5,280.5 374,277.5 377,283.5 380,289.5 379.25,300 381.5,301.5 383,297.75 386,298.5 389,296.25 393.5,297.75 398,297 404,297 409,299.5 415,297.5 420,295 425,290 428,292.5 434,293.5 439,294" fill="none" stroke="#000" stroke-width="1.2" stroke-linejoin="round"/>
<polyline points="287,278 290,276 294,277.5 292,280.5 288,280 287,278" fill="none" stroke="#000" stroke-width="1.2" stroke-linejoin="round"/>
</g>
<rect x="168.8" y="164.7" width="6" height="9.8" fill="#fff"/>
<text x="171.8" y="173.3" font-family="Liberation Sans, sans-serif" font-weight="bold" font-size="10.3" text-anchor="middle" fill="#000">6</text>
<rect x="215.0" y="159.1" width="6" height="9.8" fill="#fff"/>
<text x="218.0" y="167.7" font-family="Liberation Sans, sans-serif" font-weight="bold" font-size="10.3" text-anchor="middle" fill="#000">4</text>
<rect x="533.3" y="260.2" width="6" height="9.8" fill="#fff"/>
<text x="536.3" y="268.8" font-family="Liberation Sans, sans-serif" font-weight="bold" font-size="10.3" text-anchor="middle" fill="#000">2</text>
<rect x="533.3" y="288.1" width="6" height="9.8" fill="#fff"/>
<text x="536.3" y="296.7" font-family="Liberation Sans, sans-serif" font-weight="bold" font-size="10.3" text-anchor="middle" fill="#000">5</text>
<rect x="447.1" y="351.7" width="6" height="9.8" fill="#fff"/>
<text x="450.1" y="360.3" font-family="Liberation Sans, sans-serif" font-weight="bold" font-size="10.3" text-anchor="middle" fill="#000">6</text>
<rect x="341.0" y="379.8" width="6" height="9.8" fill="#fff"/>
<text x="344.0" y="388.4" font-family="Liberation Sans, sans-serif" font-weight="bold" font-size="10.3" text-anchor="middle" fill="#000">3</text>
<rect x="341.0" y="396.5" width="6" height="9.8" fill="#fff"/>
<text x="344.0" y="405.1" font-family="Liberation Sans, sans-serif" font-weight="bold" font-size="10.3" text-anchor="middle" fill="#000">4</text>
<rect x="348.0" y="406.1" width="6" height="9.8" fill="#fff"/>
<text x="351.0" y="414.7" font-family="Liberation Sans, sans-serif" font-weight="bold" font-size="10.3" text-anchor="middle" fill="#000">5</text>
<rect x="328.0" y="481.1" width="6" height="9.8" fill="#fff"/>
<text x="331.0" y="489.7" font-family="Liberation Sans, sans-serif" font-weight="bold" font-size="10.3" text-anchor="middle" fill="#000">6</text>
<circle cx="365" cy="160" r="1.4" fill="none" stroke="#ff3cb4" stroke-width="0.9"/>
<circle cx="635.4" cy="314.7" r="1.5" fill="none" stroke="#ff3cb4" stroke-width="1"/>
<text x="607.9" y="321.7" font-family="DejaVu Sans, sans-serif" font-size="8.6" font-weight="normal" fill="#222" textLength="27.0" lengthAdjust="spacingAndGlyphs">Tortus</text>
<rect x="120" y="535.5" width="433" height="10.5" fill="#fff" fill-opacity="0.27"/>
<line x1="119" y1="535.5" x2="553" y2="535.5" stroke="#000" stroke-width="1"/>
<text x="122.75" y="544.3" font-family="DejaVu Sans, sans-serif" font-size="10" font-weight="normal" fill="#000" textLength="104.9" lengthAdjust="spacingAndGlyphs">meteo–services.com</text>
<text x="235.6" y="544.3" font-family="DejaVu Sans, sans-serif" font-size="10" font-weight="normal" fill="#000" textLength="4.0" lengthAdjust="spacingAndGlyphs">*</text>
<text x="247.5" y="544.3" font-family="DejaVu Sans, sans-serif" font-size="10" font-weight="normal" fill="#000" textLength="38.7" lengthAdjust="spacingAndGlyphs">(c)2025</text>
<text x="293.75" y="544.3" font-family="DejaVu Sans, sans-serif" font-size="10" font-weight="normal" fill="#000" textLength="21.2" lengthAdjust="spacingAndGlyphs">IWKF</text>
<text x="322.5" y="544.3" font-family="DejaVu Sans, sans-serif" font-size="10" font-weight="normal" fill="#000" textLength="5.0" lengthAdjust="spacingAndGlyphs">*</text>
<text x="333" y="544.3" font-family="DejaVu Sans, sans-serif" font-size="10" font-weight="normal" fill="#000" textLength="10.8" lengthAdjust="spacingAndGlyphs">All</text>
<text x="350" y="544.3" font-family="DejaVu Sans, sans-serif" font-size="10" font-weight="normal" fill="#000" textLength="28.8" lengthAdjust="spacingAndGlyphs">rights</text>
<text x="385" y="544.3" font-family="DejaVu Sans, sans-serif" font-size="10" font-weight="normal" fill="#000" textLength="42.5" lengthAdjust="spacingAndGlyphs">reserved</text>
<text x="435" y="544.3" font-family="DejaVu Sans, sans-serif" font-size="10" font-weight="normal" fill="#000" textLength="48.8" lengthAdjust="spacingAndGlyphs">(18+018)</text>
<rect x="119" y="53" width="562" height="494" fill="none" stroke="#000" stroke-width="2"/>
<text x="112.5" y="56.8" font-family="Liberation Sans, sans-serif" font-weight="bold" font-size="12" text-anchor="end" fill="#000" letter-spacing="-0.6">37N</text>
<text x="112.5" y="118.5" font-family="Liberation Sans, sans-serif" font-weight="bold" font-size="12" text-anchor="end" fill="#000" letter-spacing="-0.6">36.5N</text>
<text x="112.5" y="180.3" font-family="Liberation Sans, sans-serif" font-weight="bold" font-size="12" text-anchor="end" fill="#000" letter-spacing="-0.6">36N</text>
<text x="112.5" y="242.1" font-family="Liberation Sans, sans-serif" font-weight="bold" font-size="12" text-anchor="end" fill="#000" letter-spacing="-0.6">35.5N</text>
<text x="112.5" y="303.8" font-family="Liberation Sans, sans-serif" font-weight="bold" font-size="12" text-anchor="end" fill="#000" letter-spacing="-0.6">35N</text>
<text x="112.5" y="365.6" font-family="Liberation Sans, sans-serif" font-weight="bold" font-size="12" text-anchor="end" fill="#000" letter-spacing="-0.6">34.5N</text>
<text x="112.5" y="427.3" font-family="Liberation Sans, sans-serif" font-weight="bold" font-size="12" text-anchor="end" fill="#000" letter-spacing="-0.6">34N</text>
<text x="112.5" y="489.1" font-family="Liberation Sans, sans-serif" font-weight="bold" font-size="12" text-anchor="end" fill="#000" letter-spacing="-0.6">33.5N</text>
<text x="112.5" y="550.8" font-family="Liberation Sans, sans-serif" font-weight="bold" font-size="12" text-anchor="end" fill="#000" letter-spacing="-0.6">33N</text>
<text x="119" y="561" font-family="Liberation Sans, sans-serif" font-weight="bold" font-size="12" text-anchor="middle" fill="#000" letter-spacing="-0.6">31E</text>
<text x="172" y="561" font-family="Liberation Sans, sans-serif" font-weight="bold" font-size="12" text-anchor="middle" fill="#000" letter-spacing="-0.6">31.5E</text>
<text x="225" y="561" font-family="Liberation Sans, sans-serif" font-weight="bold" font-size="12" text-anchor="middle" fill="#000" letter-spacing="-0.6">32E</text>
<text x="278" y="561" font-family="Liberation Sans, sans-serif" font-weight="bold" font-size="12" text-anchor="middle" fill="#000" letter-spacing="-0.6">32.5E</text>
<text x="331" y="561" font-family="Liberation Sans, sans-serif" font-weight="bold" font-size="12" text-anchor="middle" fill="#000" letter-spacing="-0.6">33E</text>
<text x="384" y="561" font-family="Liberation Sans, sans-serif" font-weight="bold" font-size="12" text-anchor="middle" fill="#000" letter-spacing="-0.6">33.5E</text>
<text x="437" y="561" font-family="Liberation Sans, sans-serif" font-weight="bold" font-size="12" text-anchor="middle" fill="#000" letter-spacing="-0.6">34E</text>
<text x="490" y="561" font-family="Liberation Sans, sans-serif" font-weight="bold" font-size="12" text-anchor="middle" fill="#000" letter-spacing="-0.6">34.5E</text>
<text x="543" y="561" font-family="Liberation Sans, sans-serif" font-weight="bold" font-size="12" text-anchor="middle" fill="#000" letter-spacing="-0.6">35E</text>
<text x="596" y="561" font-family="Liberation Sans, sans-serif" font-weight="bold" font-size="12" text-anchor="middle" fill="#000" letter-spacing="-0.6">35.5E</text>
<text x="649" y="561" font-family="Liberation Sans, sans-serif" font-weight="bold" font-size="12" text-anchor="middle" fill="#000" letter-spacing="-0.6">36E</text>
<path d="M115 52.5H119M115 114.2H119M115 176.0H119M115 237.8H119M115 299.5H119M115 361.2H119M115 423.0H119M115 484.8H119M115 546.5H119M119 547V550.5M172 547V550.5M225 547V550.5M278 547V550.5M331 547V550.5M384 547V550.5M437 547V550.5M490 547V550.5M543 547V550.5M596 547V550.5M649 547V550.5" stroke="#000" stroke-width="1.5"/>
<text x="123.4" y="31.7" font-family="DejaVu Sans, sans-serif" font-size="10.3" font-weight="normal" fill="#5a5a5a" textLength="28.1" lengthAdjust="spacingAndGlyphs">CETA</text>
<text x="177.4" y="31.7" font-family="DejaVu Sans, sans-serif" font-size="10.3" font-weight="normal" fill="#5a5a5a" textLength="23.6" lengthAdjust="spacingAndGlyphs">Inst.</text>
<text x="208.9" y="31.7" font-family="DejaVu Sans, sans-serif" font-size="10.3" font-weight="normal" fill="#5a5a5a" textLength="10.1" lengthAdjust="spacingAndGlyphs">f.</text>
<text x="227.4" y="31.7" font-family="DejaVu Sans, sans-serif" font-size="10.3" font-weight="normal" fill="#5a5a5a" textLength="36.3" lengthAdjust="spacingAndGlyphs">Wetter</text>
<text x="283.4" y="31.7" font-family="DejaVu Sans, sans-serif" font-size="10.3" font-weight="normal" fill="#5a5a5a" textLength="22.5" lengthAdjust="spacingAndGlyphs">und</text>
<text x="313.8" y="31.7" font-family="DejaVu Sans, sans-serif" font-size="10.3" font-weight="normal" fill="#5a5a5a" textLength="124.8" lengthAdjust="spacingAndGlyphs">Klimafolgenanalysen</text>
<path d="M160.5 28.6H168.4M266.8 28.6H273.8M446.5 28.6H455.5" stroke="#555" stroke-width="1"/>
<rect x="118.5" y="38.5" width="563" height="14" fill="#fff" stroke="#555" stroke-width="1"/>
<text x="123.2" y="48.3" font-family="DejaVu Sans, sans-serif" font-size="10.5" font-weight="normal" fill="#000" textLength="29.3" lengthAdjust="spacingAndGlyphs">Wave</text>
<text x="161.5" y="48.3" font-family="DejaVu Sans, sans-serif" font-size="10.5" font-weight="normal" fill="#000" textLength="43.5" lengthAdjust="spacingAndGlyphs">PERIOD</text>
<text x="240.7" y="48.3" font-family="DejaVu Sans, sans-serif" font-size="10.5" font-weight="normal" fill="#000" textLength="9.8" lengthAdjust="spacingAndGlyphs">&amp;</text>
<text x="258.75" y="48.3" font-family="DejaVu Sans, sans-serif" font-size="10.5" font-weight="normal" fill="#000" textLength="53.2" lengthAdjust="spacingAndGlyphs">Direction</text>
<text x="552.5" y="48.3" font-family="DejaVu Sans, sans-serif" font-size="10.5" font-weight="normal" fill="#000" textLength="70.0" lengthAdjust="spacingAndGlyphs">15.12.2025</text>
<text x="632.5" y="48.3" font-family="DejaVu Sans, sans-serif" font-size="10.5" font-weight="normal" fill="#000" textLength="12.5" lengthAdjust="spacingAndGlyphs">12</text>
<text x="653.75" y="48.3" font-family="DejaVu Sans, sans-serif" font-size="10.5" font-weight="normal" fill="#000" textLength="23.8" lengthAdjust="spacingAndGlyphs">UTC</text>
<text x="222.8" y="48.3" font-family="DejaVu Sans, sans-serif" font-size="10.5" text-anchor="middle" fill="#000">s</text>
<rect x="215.5" y="39.5" width="14.5" height="11.5" fill="none" stroke="#666" stroke-width="1"/>
<path d="M153.2 50.5H160.7M205.7 50.5H214M232.2 50.5H239.2M251.2 50.5H258" stroke="#999" stroke-width="1"/>
</svg></body></html>
